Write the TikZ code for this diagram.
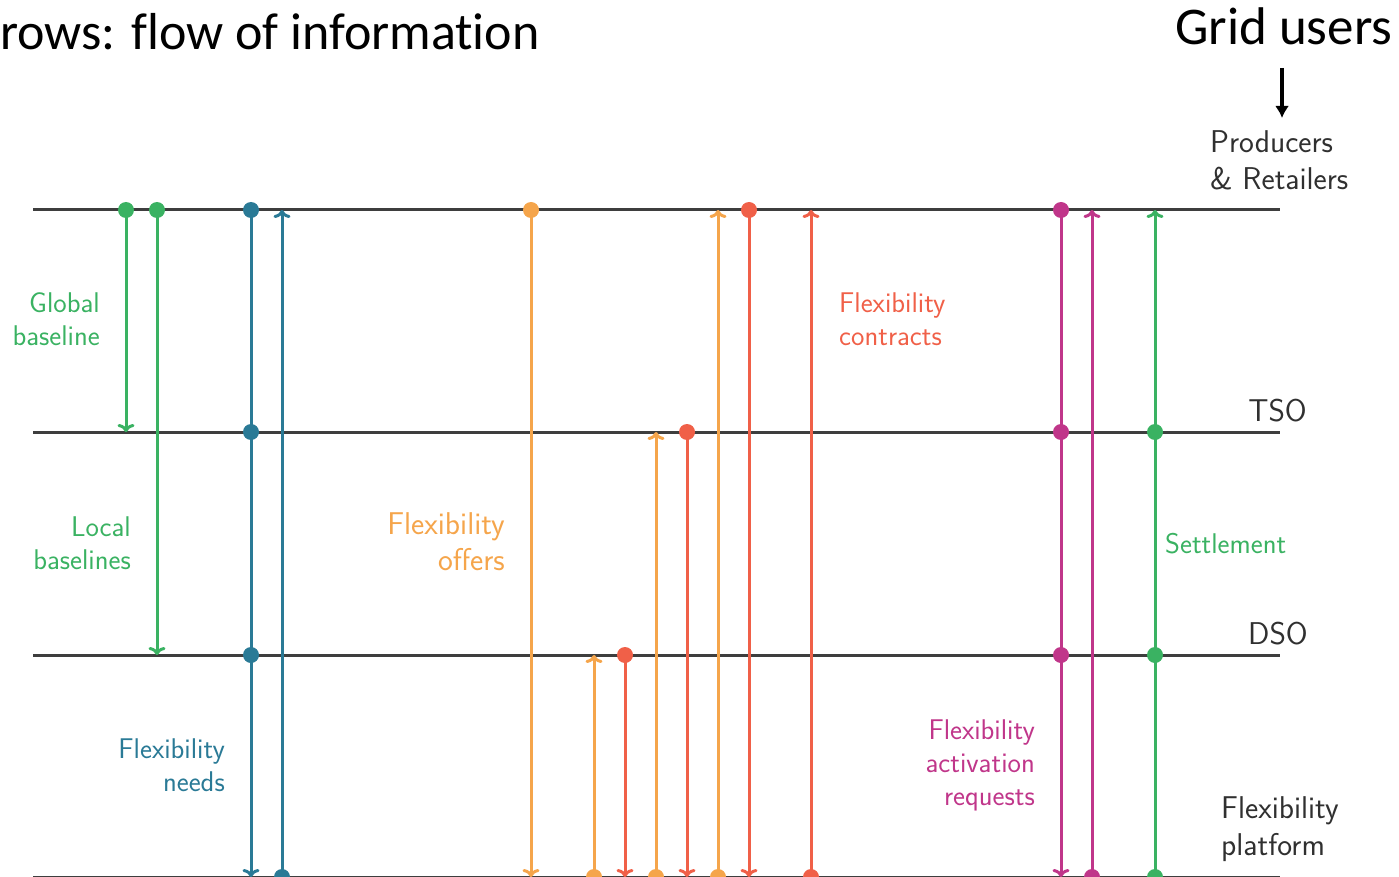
\documentclass[tikz,border=0pt]{standalone}
\usepackage{fontspec}
\newfontfamily\slidefont[Ligatures=NoCommon]{Carlito}
\usetikzlibrary{arrows.meta}
\definecolor{basecol}{RGB}{58,178,98}
\definecolor{needcol}{RGB}{42,122,150}
\definecolor{offercol}{RGB}{245,165,75}
\definecolor{contractcol}{RGB}{240,96,72}
\definecolor{activcol}{RGB}{192,54,138}
\definecolor{levelcol}{RGB}{62,62,62}
\definecolor{darktext}{RGB}{48,48,48}
\tikzstyle{flow} = [line width=3pt,-{To[length=8pt,width=17pt]}]
\tikzstyle{levelline} = [line width=3pt,levelcol]
\tikzstyle{lbl} = [inner sep=0pt,font=\sffamily\fontsize{28.5}{33}\selectfont]
\tikzstyle{biglbl} = [inner sep=0pt,text=darktext,font=\sffamily\fontsize{31.5}{37}\selectfont]

\begin{document}
\begin{tikzpicture}[x=1pt,y=-1pt]
    \useasboundingbox (0,0) rectangle (1399,877);
    \clip (0,0) rectangle (1399,877);
    % the four levels
    \coordinate (prod) at (0,210);
    \coordinate (tso)  at (0,432);
    \coordinate (dso)  at (0,655);
    \coordinate (plat) at (0,877);
    \foreach \l in {prod,tso,dso,plat}
        \draw[levelline] (33,0 |- \l) -- (1280,0 |- \l);
    % x / from / to / colour
    \foreach \x/\a/\b/\c in {126/prod/tso/basecol, 157/prod/dso/basecol,
        251/prod/plat/needcol, 282/plat/prod/needcol,
        531/prod/plat/offercol, 594/plat/dso/offercol, 625/dso/plat/contractcol,
        656/plat/tso/offercol, 687/tso/plat/contractcol, 718/plat/prod/offercol,
        749/prod/plat/contractcol, 811/plat/prod/contractcol,
        1061/prod/plat/activcol, 1092/plat/prod/activcol,
        1155/plat/prod/basecol}{
        \coordinate (c\x) at (\x,0);
        \draw[flow,\c] (c\x |- \a) -- (c\x |- \b);
        \fill[\c] (c\x |- \a) circle (8pt);
    }
    % lines passing through the levels
    \foreach \x/\c in {251/needcol,1061/activcol,1155/basecol}{
        \fill[\c] (c\x |- tso) circle (8pt);
        \fill[\c] (c\x |- dso) circle (8pt);
    }
    % labels
    \node[lbl,basecol,align=right,anchor=east] (glob) at (100,319) {Global\\baseline};
    \node[lbl,basecol,align=right,anchor=east] (loc) at (131,543) {Local\\baselines};
    \node[lbl,needcol,align=right,anchor=east] (need) at (225,765) {Flexibility\\needs};
    \node[lbl,offercol,align=right,anchor=east,font=\sffamily\fontsize{31.5}{36}\selectfont] (off) at (505,542) {Flexibility\\offers};
    \node[lbl,contractcol,align=left,anchor=west] (contr) at (839,319) {Flexibility\\contracts};
    \node[lbl,activcol,align=right,anchor=east] (act) at (1035,765) {Flexibility\\activation\\requests};
    \node[lbl,basecol,anchor=west] (settle) at (1165,544) {Settlement};
    \node[biglbl,anchor=east] (tsolbl) at (1307,411) {TSO};
    \node[biglbl,anchor=east] (dsolbl) at (1308,634) {DSO};
    \node[biglbl,align=left,anchor=west] (prodlbl) at (1210,160) {Producers\\\& Retailers};
    \node[biglbl,align=left,anchor=west] (platlbl) at (1221,829) {Flexibility\\platform};
    % slide texts
    \node[inner sep=0pt,anchor=base west,font=\slidefont\fontsize{52}{60}\selectfont] (title) at (0,50) {rows: flow of information};
    \node[inner sep=0pt,anchor=base west,font=\slidefont\fontsize{53}{60}\selectfont] (grid) at (1175,45) {Grid users};
    \coordinate (ga) at (1282,68);
    \coordinate (gb) at (1282,118);
    \draw[line width=3.5pt,-{Latex[length=12pt,width=14pt]}] (ga) -- (gb);
\end{tikzpicture}
\end{document}
